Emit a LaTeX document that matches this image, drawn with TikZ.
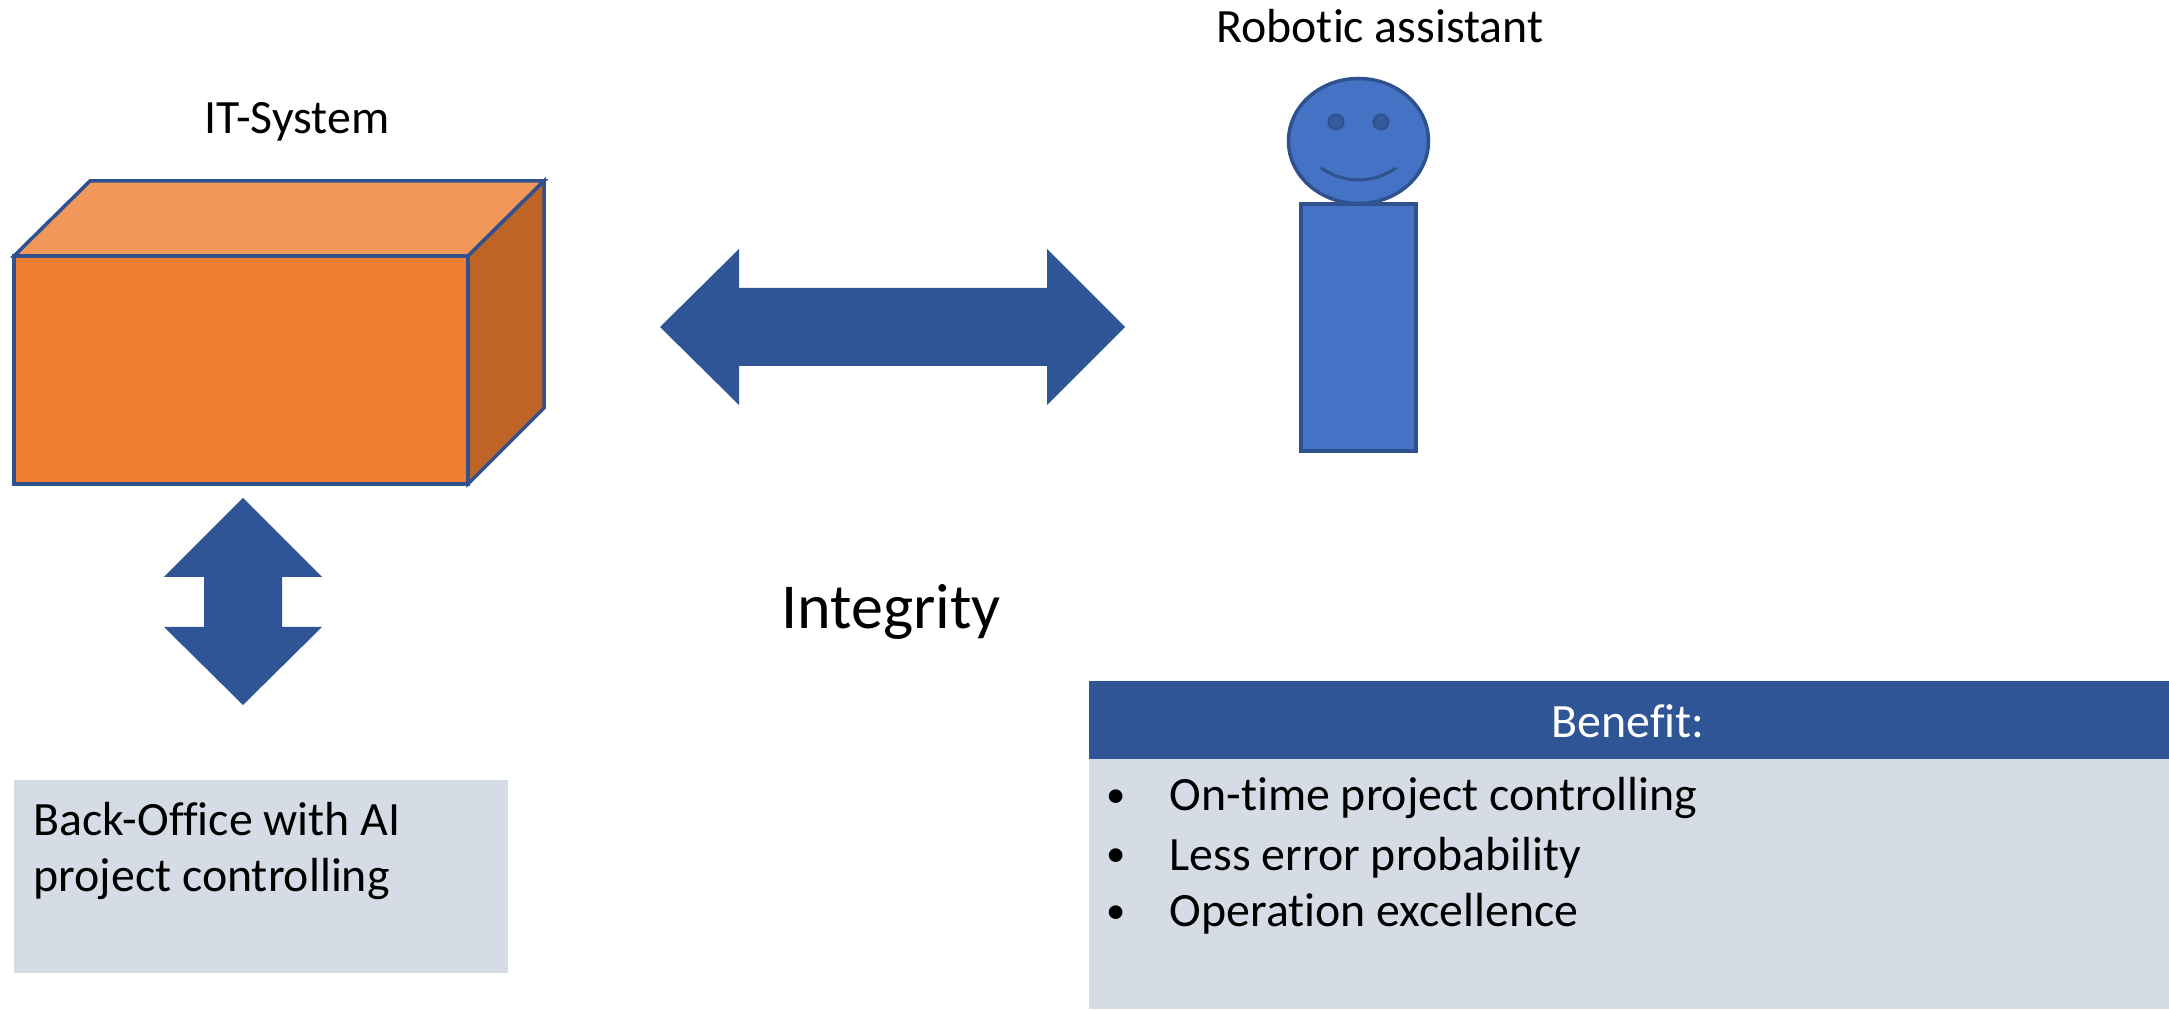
\documentclass[tikz,border=0pt]{standalone}
\usepackage{fontspec}
\setmainfont[Ligatures=NoCommon]{Carlito}
\definecolor{cubefront}{HTML}{ED7D31}
\definecolor{cubetop}{HTML}{F1975A}
\definecolor{cubeside}{HTML}{BE6426}
\definecolor{darkblue}{HTML}{2F5597}
\definecolor{edgeblue}{HTML}{2F528F}
\definecolor{robotblue}{HTML}{4472C4}
\definecolor{paleblue}{HTML}{D6DCE5}
\tikzset{
  facet/.style={draw=edgeblue,line width=0.35mm,line join=miter},
  blockarrow/.style={fill=darkblue},
  label/.style={font=\fontsize{13.6}{16}\selectfont,inner sep=0pt,anchor=base},
  bulletmark/.style={font=\fontsize{11}{13}\selectfont,inner sep=0pt,anchor=base},
  listtext/.style={label,anchor=base west},
  panel/.style={fill=paleblue,draw=none,inner sep=0pt,anchor=north west}
}
\begin{document}
\begin{tikzpicture}[x=0.01cm,y=-0.01cm]
    \useasboundingbox (0,0) rectangle (2169,1010);

    % IT system cube
    \draw[facet,fill=cubefront] (14,256) rectangle (468,484);
    \draw[facet,fill=cubetop] (14,256) -- (90,181) -- (544,181) -- (468,256) -- cycle;
    \draw[facet,fill=cubeside] (468,256) -- (544,181) -- (544,408) -- (468,484) -- cycle;
    \node[label] (itsystem) at (297,134) {IT-System};

    % Double arrows
    \fill[blockarrow] (243,498) -- (322,577) -- (282,577) -- (282,627) -- (322,627)
      -- (243,705) -- (164,627) -- (204,627) -- (204,577) -- (164,577) -- cycle;
    \fill[blockarrow] (660,327) -- (739,249) -- (739,288) -- (1047,288) -- (1047,249)
      -- (1125,327) -- (1047,405) -- (1047,366) -- (739,366) -- (739,405) -- cycle;

    % Robot
    \draw[facet,fill=robotblue] (1301,204) rectangle (1416,451);
    \draw[facet,fill=robotblue] (1358.5,141) ellipse (70 and 62.5);
    \filldraw[edgeblue,fill=edgeblue!75!robotblue,line width=0.2mm] (1336,122) circle (7.5);
    \filldraw[edgeblue,fill=edgeblue!75!robotblue,line width=0.2mm] (1381,122) circle (7.5);
    \draw[edgeblue,line width=0.3mm] (1321,168) .. controls (1345,184) and (1372,184) .. (1396,168);
    \node[label] (robot) at (1380,43) {Robotic assistant};

    % Integrity label
    \node[label,font=\fontsize{18.2}{22}\selectfont] (integrity) at (891,629) {Integrity};

    % Back-office box
    \node[panel,minimum width=4.94cm,minimum height=1.93cm] (backoffice) at (13,779) {};
    \node[listtext] (backline) at (33,836) {Back-Office with AI};
    \node[listtext] (projectline) at (33,892) {project controlling};

    % Benefit box
    \node[panel,minimum width=10.81cm,minimum height=2.50cm] (benefitbody) at (1088,758) {};
    \node[panel,fill=darkblue,minimum width=10.81cm,minimum height=0.78cm] (benefithead) at (1088,680) {};
    \node[label,text=white] (benefit) at (1628,738) {Benefit:};
    \node[bulletmark] (bulletone) at (1116,808) {•};
    \node[bulletmark] (bullettwo) at (1116,867) {•};
    \node[bulletmark] (bulletthree) at (1116,923) {•};
    \node[listtext] (ontime) at (1169,811) {On-time project controlling};
    \node[listtext] (lesserror) at (1169,870) {Less error probability};
    \node[listtext] (operation) at (1169,927) {Operation excellence};
\end{tikzpicture}
\end{document}
